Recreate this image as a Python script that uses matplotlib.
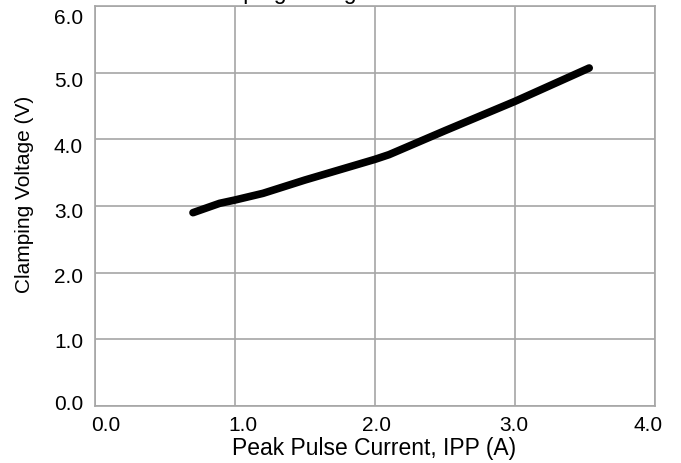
import matplotlib
matplotlib.use("Agg")
import matplotlib.pyplot as plt

# datos
corriente = [0.70, 0.89, 1.00, 1.20, 1.50, 2.00, 2.10, 2.20, 2.50, 3.00, 3.53]
voltaje = [2.90, 3.04, 3.09, 3.19, 3.39, 3.70, 3.77, 3.86, 4.13, 4.57, 5.07]
xticks = [0.0, 1.0, 2.0, 3.0, 4.0]
yticks = [0.0, 1.0, 2.0, 3.0, 4.0, 5.0, 6.0]

# desplazamientos de las etiquetas (pixeles), como en la imagen original
x_dx = [10.5, 7.5, 1.5, -1.5, -7]
y_dy = [4, 8.7, 10.3, 12, 13.7, 14.6, 17.5]

plt.rcParams['font.family'] = ['Liberation Sans', 'DejaVu Sans']

fig = plt.figure(figsize=(6.81, 4.63), dpi=100)
ax = fig.add_axes([95 / 681, 57 / 463, 560 / 681, 400 / 463])

ax.plot(corriente, voltaje, color='black', linewidth=5.5, solid_capstyle='round', solid_joinstyle='round')

ax.set_xlim(0, 4)
ax.set_ylim(0, 6)
ax.set_xticks(xticks)
ax.set_yticks(yticks)
ax.set_xticklabels([])
ax.set_yticklabels([])
ax.tick_params(length=0)
ax.grid(True, color='#a6a6a6', linewidth=1.2)
for s in ax.spines.values():
    s.set_color('#a6a6a6')
    s.set_linewidth(1.2)

# etiquetas de los ejes
for v, dx in zip(xticks, x_dx):
    ax.annotate(f"{v:.1f}", xy=(v, 0), xycoords=('data', 'axes fraction'), xytext=(dx, -25),
                textcoords='offset pixels', ha='center', va='baseline', fontsize=15)
for v, dy in zip(yticks, y_dy):
    ax.annotate(f"{v:.1f}", xy=(0, v), xycoords=('axes fraction', 'data'), xytext=(-12, -dy),
                textcoords='offset pixels', ha='right', va='baseline', fontsize=15)

fig.text(374.5 / 681, 1 - 455 / 463, 'Peak Pulse Current, IPP (A)', ha='center', va='baseline', fontsize=16.5)
fig.text(25 / 681, 1 - 194 / 463, 'Clamping Voltage (V)', ha='center', va='center', rotation=90, fontsize=15)

# titulo recortado arriba
fig.text(400 / 681, 1 + 1 / 463, 'Clamping Voltage vs. Peak Pulse Current', ha='center', va='baseline',
         fontsize=16.5)

fig.savefig('out.png', dpi=100)
